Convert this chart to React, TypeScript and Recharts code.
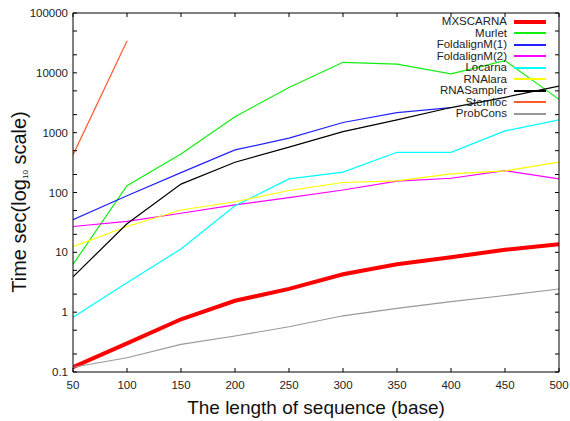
import { LineChart, Line, XAxis, YAxis } from "recharts";

const lengths = [50, 100, 150, 200, 250, 300, 350, 400, 450, 500];

// seconds
const mxscarna = [0.12, 0.3, 0.76, 1.55, 2.45, 4.3, 6.3, 8.3, 11, 13.6];
const murlet = [6.3, 130, 440, 1850, 5700, 15000, 14000, 9600, 16000, 3600];
const foldalignM1 = [35, 88, 215, 515, 810, 1480, 2170, 2630, null, null];
const foldalignM2 = [27, 33, 45, 62, 82, 110, 155, 173, 232, 169];
const locarna = [0.82, 3.1, 11.4, 60, 169, 219, 470, 470, 1070, 1640];
const rnalara = [12.4, 27, 51, 70, 108, 147, 156, 205, 230, 321];
const rnaSampler = [3.9, 30, 138, 321, 572, 1040, 1640, 2630, 3900, 6000];
const stemloc = [425, 34000, null, null, null, null, null, null, null, null];
const probcons = [0.12, 0.173, 0.29, 0.4, 0.57, 0.87, 1.16, 1.5, 1.9, 2.44];

const yTicks = [0.1, 0.2, 0.5, 1, 2, 5, 10, 20, 50, 100, 200, 500, 1000, 2000, 5000, 10000, 20000, 50000, 100000];
const yMajor = [0.1, 1, 10, 100, 1000, 10000, 100000];

const series = [
  { key: "MXSCARNA", values: mxscarna, color: "#ff0000", width: 4 },
  { key: "Murlet", values: murlet, color: "#11ee11", width: 1.2 },
  { key: "FoldalignM(1)", values: foldalignM1, color: "#2222ff", width: 1.2 },
  { key: "FoldalignM(2)", values: foldalignM2, color: "#ff00ff", width: 1.2 },
  { key: "Locarna", values: locarna, color: "#00ffff", width: 1.2 },
  { key: "RNAlara", values: rnalara, color: "#ffff00", width: 1.2 },
  { key: "RNASampler", values: rnaSampler, color: "#000000", width: 1.2 },
  { key: "Stemloc", values: stemloc, color: "#ff5a28", width: 1.2 },
  { key: "ProbCons", values: probcons, color: "#999999", width: 1.2 },
];

const data = lengths.map((len, i) => {
  const row: Record<string, number | null> = { len };
  series.forEach((s) => {
    row[s.key] = s.values[i];
  });
  return row;
});

const font = "'Liberation Sans', Arial, sans-serif";

const YTick = (props: any) => {
  const { x, y, payload } = props;
  if (!yMajor.includes(payload.value)) return <g />;
  return (
    <text x={x} y={y} dy="0.35em" textAnchor="end" fontSize={11.5} fill="#222" fontFamily={font}>
      {String(payload.value)}
    </text>
  );
};

const XTick = (props: any) => {
  const { x, y, payload } = props;
  return (
    <text x={x} y={y} dy="0.71em" textAnchor="middle" fontSize={11.5} fill="#222" fontFamily={font}>
      {payload.value}
    </text>
  );
};

const NoTick = () => <g />;

// gnuplot style key: label right-aligned, sample line after it
const LegendBox = () => (
  <div
    style={{
      position: "absolute",
      left: 380,
      top: 16,
      width: 166,
      fontFamily: font,
      fontSize: 11.5,
      color: "#222",
      pointerEvents: "none",
    }}
  >
    {series.map((s) => (
      <div
        key={s.key}
        style={{ display: "flex", alignItems: "center", justifyContent: "flex-end", height: 11.5, lineHeight: "11.5px" }}
      >
        <span style={{ whiteSpace: "nowrap" }}>{s.key}</span>
        <div
          style={{
            width: 32,
            flex: "none",
            borderTop: `${s.width > 2 ? 4 : 2}px solid ${s.color}`,
            marginLeft: 7,
          }}
        />
      </div>
    ))}
  </div>
);

const App = () => {
  return (
    <div style={{ position: "absolute", left: 0, top: 0, width: 570, height: 421, background: "#fff" }}>
      <LineChart width={570} height={421} data={data} margin={{ top: 12, right: 10, bottom: 19, left: 13 }}>
        <XAxis
          dataKey="len"
          type="number"
          domain={[50, 500]}
          ticks={lengths}
          allowDataOverflow
          height={30}
          axisLine={{ stroke: "#000" }}
          tickLine={{ stroke: "#000" }}
          tickSize={-4}
          tickMargin={13}
          tick={XTick}
          interval={0}
          label={{
            content: (p: any) => (
              <text
                x={p.viewBox.x + p.viewBox.width / 2}
                y={414}
                textAnchor="middle"
                fontSize={19}
                fill="#111"
                fontFamily={font}
              >
                The length of sequence (base)
              </text>
            ),
          }}
        />
        <XAxis
          xAxisId="top"
          orientation="top"
          dataKey="len"
          type="number"
          domain={[50, 500]}
          ticks={lengths}
          allowDataOverflow
          height={1}
          axisLine={{ stroke: "#000" }}
          tickLine={{ stroke: "#000" }}
          tickSize={-4}
          tick={NoTick}
          interval={0}
        />
        <YAxis
          scale="log"
          domain={[0.1, 100000]}
          ticks={yTicks}
          allowDataOverflow
          width={60}
          axisLine={{ stroke: "#000" }}
          tickLine={{ stroke: "#000" }}
          tickSize={-4}
          tickMargin={9}
          tick={YTick}
          interval={0}
          label={{
            content: () => (
              <text
                x={26}
                y={202}
                transform="rotate(-90, 26, 202)"
                textAnchor="middle"
                fontSize={20}
                fill="#111"
                fontFamily={font}
              >
                Time sec(log
                <tspan fontSize={8} dy={2}>10</tspan>
                <tspan dy={-2}> scale)</tspan>
              </text>
            ),
          }}
        />
        <YAxis
          yAxisId="right"
          orientation="right"
          scale="log"
          domain={[0.1, 100000]}
          ticks={yTicks}
          allowDataOverflow
          width={1}
          axisLine={{ stroke: "#000" }}
          tickLine={{ stroke: "#000" }}
          tickSize={-4}
          tick={NoTick}
          interval={0}
        />
        {series.map((s) => (
          <Line
            key={s.key}
            type="linear"
            dataKey={s.key}
            stroke={s.color}
            strokeWidth={s.width}
            dot={false}
            activeDot={false}
            connectNulls={false}
            isAnimationActive={false}
          />
        ))}
      </LineChart>
      <LegendBox />
    </div>
  );
};

export default App;
